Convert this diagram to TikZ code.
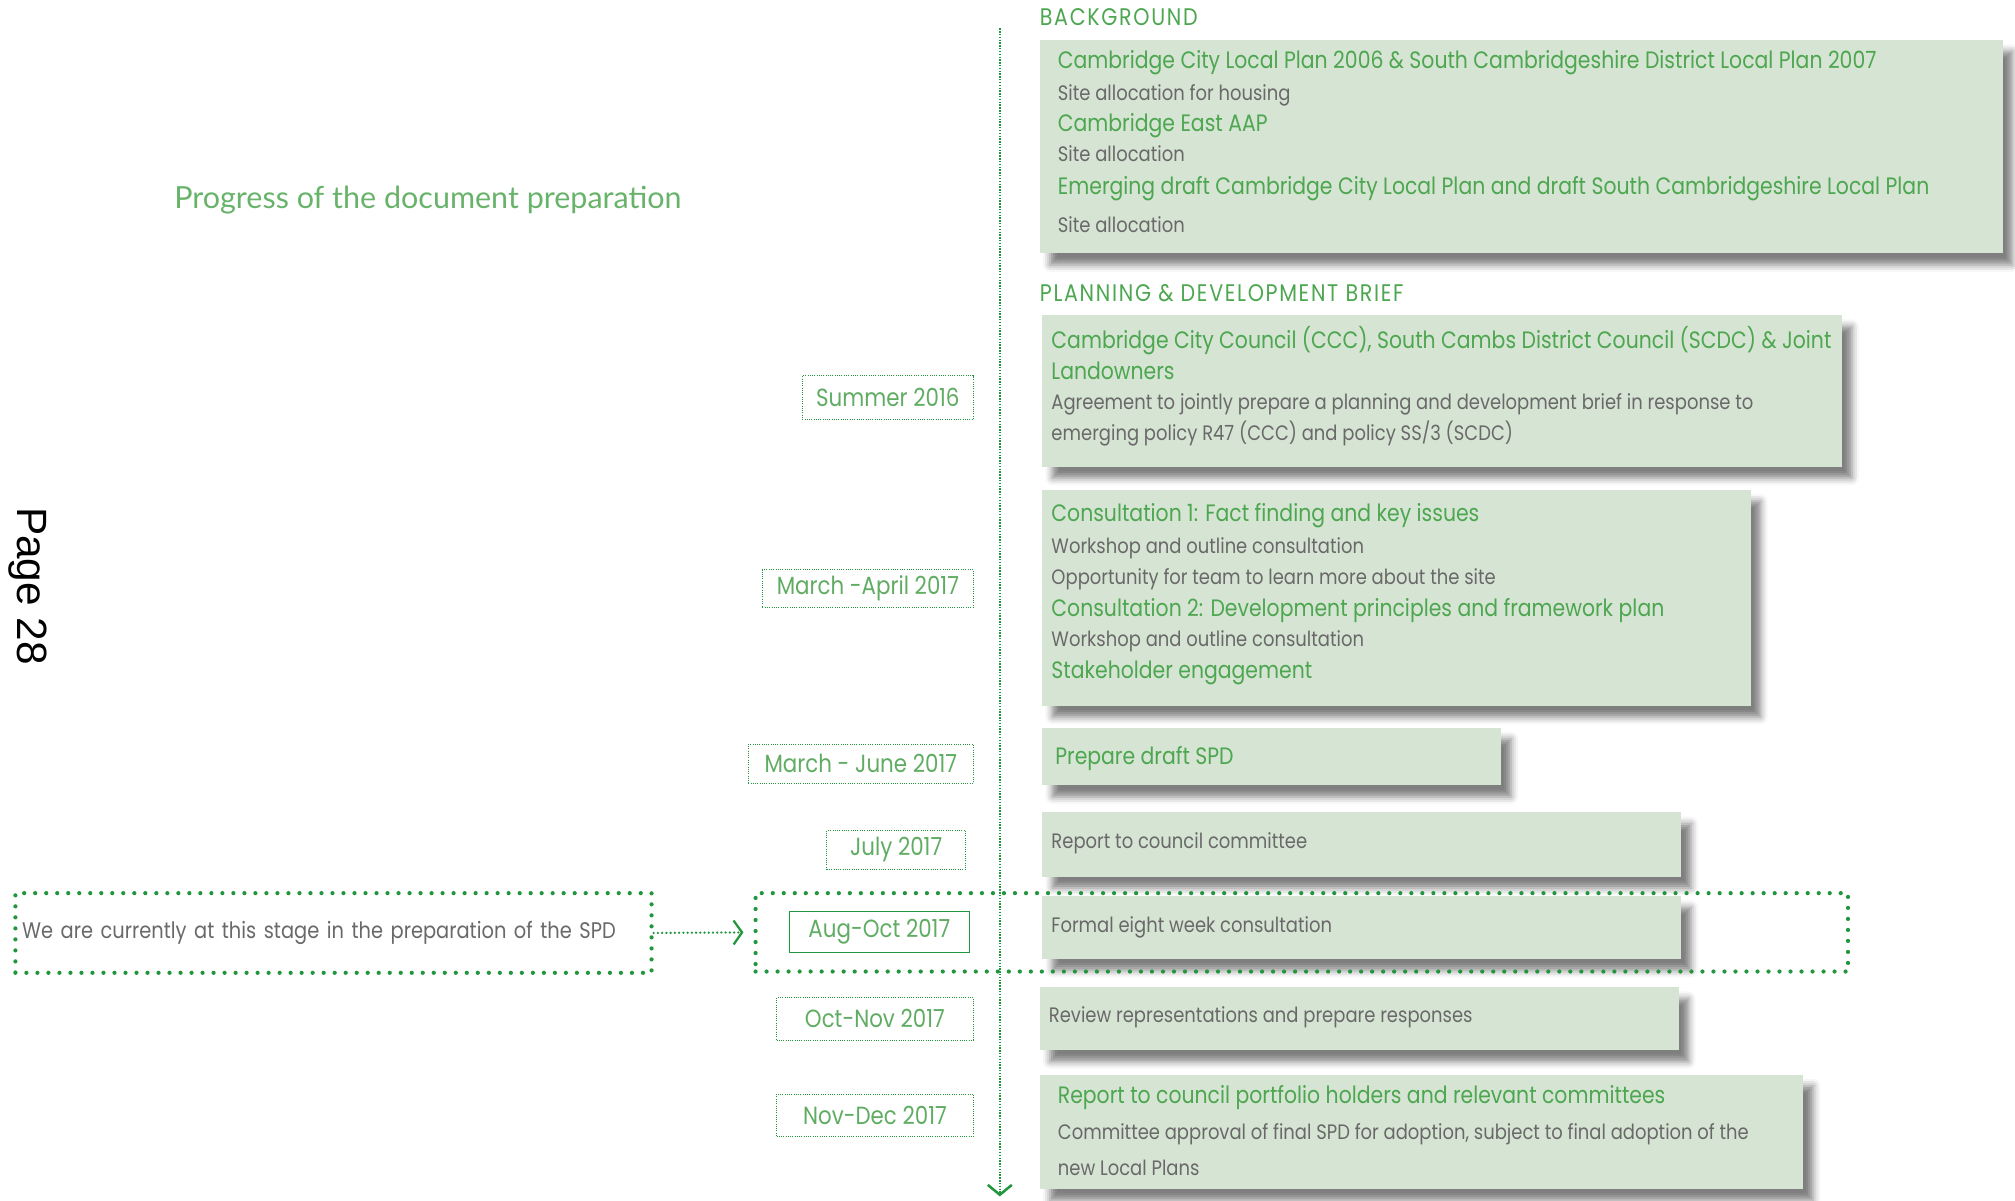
\documentclass[tikz,border=0pt]{standalone}
\usepackage{fontspec}
\setmainfont{Poppins}[FakeStretch=0.86]
\newfontfamily\titlefont{Lato}
\newfontfamily\pagefont{Liberation Sans}
\usetikzlibrary{arrows.meta,shadows.blur}
\definecolor{boxgreen}{RGB}{214,228,211}
\definecolor{headgreen}{RGB}{77,166,80}
\definecolor{notegray}{RGB}{105,105,105}
\definecolor{dotgreen}{RGB}{34,150,62}
\definecolor{dategreen}{RGB}{95,172,98}
\tikzset{
  stagebox/.style={fill=boxgreen, anchor=north west, inner sep=0pt,
    blur shadow={shadow xshift=7pt, shadow yshift=-8pt, shadow blur radius=5pt, shadow opacity=50}},
  datebox/.style={draw=dotgreen, densely dotted, line width=0.6pt, text=dategreen, anchor=north west,
    inner sep=0pt, font=\fontsize{17.6}{20}\selectfont},
  headline/.style={anchor=base west, inner sep=0pt, text=headgreen, font=\fontsize{16.8}{20}\selectfont},
  subline/.style={anchor=base west, inner sep=0pt, text=notegray, font=\fontsize{14.8}{17}\selectfont},
  sectionlabel/.style={anchor=west, inner sep=0pt, text=headgreen,
    font=\fontsize{17}{20}\selectfont\addfontfeatures{LetterSpace=7}},
  nowdots/.style={draw=dotgreen, line width=3pt, dash pattern=on 0pt off 7.8pt, line cap=round},
}
\begin{document}
\begin{tikzpicture}[x=0.032cm,y=-0.032cm]
  \useasboundingbox (0,0) rectangle (1568,934);
  % time line
  \coordinate (tltop) at (778,22);
  \coordinate (tlbot) at (778,931);
  \draw[dotgreen, line width=1pt, densely dotted, -{Straight Barb[length=7pt,width=17pt,line width=1.8pt]}] (tltop) -- (tlbot);

  \node[text=headgreen!85!white, font=\titlefont\fontsize{21.6}{25}\selectfont] (title) at (333,156) {Progress of the document preparation};
  \node[rotate=-90, font=\pagefont\fontsize{30}{36}\selectfont] (page) at (22,456) {Page 28};

  % background
  \node[sectionlabel] (bglabel) at (809,13) {BACKGROUND};
  \node[stagebox, minimum width=23.968cm, minimum height=5.312cm] (bgbox) at (809,31) {};
  \node[headline] (bg1) at (823,53) {Cambridge City Local Plan 2006 \& South Cambridgeshire District Local Plan 2007};
  \node[subline] (bg2) at (823,78) {Site allocation for housing};
  \node[headline] (bg3) at (823,102) {Cambridge East AAP};
  \node[subline] (bg4) at (823,126) {Site allocation};
  \node[headline] (bg5) at (823,151) {Emerging draft Cambridge City Local Plan and draft South Cambridgeshire Local Plan};
  \node[subline] (bg6) at (823,181) {Site allocation};

  % brief
  \node[sectionlabel] (brieflabel) at (809,228) {PLANNING \& DEVELOPMENT BRIEF};
  \node[stagebox, minimum width=19.904cm, minimum height=3.776cm] (briefbox) at (811,245) {};
  \node[headline] (brief1) at (818,271) {Cambridge City Council (CCC), South Cambs District Council (SCDC) \& Joint};
  \node[headline] (brief2) at (818,295) {Landowners};
  \node[subline] (brief3) at (818,319) {Agreement to jointly prepare a planning and development brief in response to};
  \node[subline] (brief4) at (818,343) {emerging policy R47 (CCC) and policy SS/3 (SCDC)};
  \node[datebox, minimum width=4.256cm, minimum height=1.088cm] (d1) at (624,292) {Summer 2016};

  % consultation
  \node[stagebox, minimum width=17.632cm, minimum height=5.376cm] (consultbox) at (811,381) {};
  \node[headline] (cons1) at (818,406) {Consultation 1: Fact finding and key issues};
  \node[subline] (cons2) at (818,431) {Workshop and outline consultation};
  \node[subline] (cons3) at (818,455) {Opportunity for team to learn more about the site};
  \node[headline] (cons4) at (818,480) {Consultation 2: Development principles and framework plan};
  \node[subline] (cons5) at (818,503) {Workshop and outline consultation};
  \node[headline] (cons6) at (818,528) {Stakeholder engagement};
  \node[datebox, minimum width=5.248cm, minimum height=0.928cm] (d2) at (593,443) {March -April 2017};

  % draft
  \node[stagebox, minimum width=11.424cm, minimum height=1.44cm] (draftbox) at (811,566) {};
  \node[headline] (draft1) at (821,595) {Prepare draft SPD};
  \node[datebox, minimum width=5.6cm, minimum height=0.96cm] (d3) at (582,579) {March - June 2017};

  \node[stagebox, minimum width=15.904cm, minimum height=1.6cm] (committeebox) at (811,632) {};
  \node[subline] (comm1) at (818,660) {Report to council committee};
  \node[datebox, minimum width=3.456cm, minimum height=0.96cm] (d4) at (643,646) {July 2017};

  \node[stagebox, minimum width=15.904cm, minimum height=1.568cm] (formalbox) at (811,697) {};
  \node[subline] (formal1) at (818,726) {Formal eight week consultation};
  \node[datebox, solid, line width=0.5pt, minimum width=4.48cm, minimum height=1.024cm] (d5) at (614,709) {Aug-Oct 2017};

  \node[stagebox, minimum width=15.904cm, minimum height=1.568cm] (reviewbox) at (809,768) {};
  \node[subline] (review1) at (816,796) {Review representations and prepare responses};
  \node[datebox, minimum width=4.896cm, minimum height=1.056cm] (d6) at (604,776) {Oct-Nov 2017};

  \node[stagebox, minimum width=19.008cm, minimum height=2.848cm] (adoptbox) at (809,836) {};
  \node[headline] (adopt1) at (823,859) {Report to council portfolio holders and relevant committees};
  \node[subline] (adopt2) at (823,887) {Committee approval of final SPD for adoption, subject to final adoption of the};
  \node[subline] (adopt3) at (823,915) {new Local Plans};
  \node[datebox, minimum width=4.896cm, minimum height=1.056cm] (d7) at (604,851) {Nov-Dec 2017};

  % where we are now
  \node[nowdots, minimum width=27.2cm, minimum height=1.952cm, inner sep=0pt] (current) at (1013,725.5) {};
  \node[nowdots, minimum width=15.84cm, minimum height=1.984cm, text width=15.5cm, align=left, inner xsep=0.17cm,
    text=notegray, font=\fontsize{16}{19}\selectfont] (note) at (259.5,726) {We are currently at this stage in the preparation of the SPD};
  \draw[dotgreen, line width=1.8pt, dash pattern=on 0pt off 3pt, line cap=round, shorten >=0.25cm,
    -{Straight Barb[length=6pt,width=17pt,line width=1.6pt]}] (note.east) -- (current.west);
\end{tikzpicture}
\end{document}
